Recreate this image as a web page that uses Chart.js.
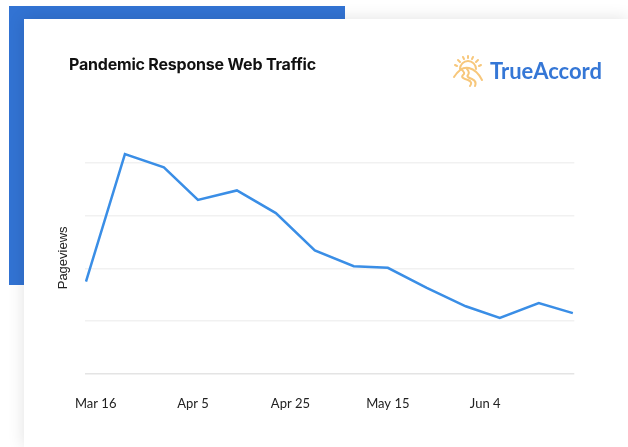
<!DOCTYPE html>
<html>
<head>
<meta charset="utf-8">
<script src="https://cdn.jsdelivr.net/npm/chart.js@4/dist/chart.umd.min.js"></script>
<style>
  html, body { margin: 0; padding: 0; background: #fff; }
  body { width: 628px; height: 447px; position: relative; overflow: hidden; }
  .accent { position: absolute; left: 9px; top: 6px; width: 336px; height: 279px; background: #3273d3; }
  .card { position: absolute; left: 24px; top: 19px; width: 604px; height: 428px; background: #fff;
          box-shadow: 0 0 16px rgba(0,0,0,0.12); }
  .card h1 { position: absolute; left: 45px; top: 35px; margin: 0; font: bold 16px Inter, sans-serif;
             color: #111; letter-spacing: -0.2px; }
  .logo { position: absolute; left: 428px; top: 33px; height: 36px; display: flex; align-items: center; }
  .logo span { font: bold 22px Lato, sans-serif; color: #3577d6; margin-left: 6px; }
  canvas { position: absolute; left: 0; top: 0; }
</style>
</head>
<body>
<div class="accent"></div>
<div class="card">
  <canvas id="canvas1" width="604" height="428"></canvas>
  <h1>Pandemic Response Web Traffic</h1>
  <div class="logo">
    <svg width="32" height="34" viewBox="0 0 32 34" fill="none" stroke="#f7c77b" stroke-width="2" stroke-linecap="round">
      <!-- rays -->
      <line x1="3" y1="12" x2="5" y2="13"/>
      <line x1="6" y1="7" x2="8" y2="9"/>
      <line x1="11" y1="4" x2="12" y2="6"/>
      <line x1="16" y1="3" x2="16" y2="5"/>
      <line x1="21" y1="4" x2="20" y2="6"/>
      <line x1="26" y1="7" x2="24" y2="9"/>
      <line x1="29" y1="12" x2="27" y2="13"/>
      <!-- sun -->
      <path d="M8 16 A8 8 0 0 1 24 16"/>
      <!-- hills -->
      <path d="M2 24 Q9 13 17 15 Q25 17 30 27"/>
      <!-- road -->
      <path d="M9 16 Q14 20 11 22 Q8 25 16 27 Q21 29 18 33"/>
      <path d="M15 16 Q18 19 16 22 Q14 24 20 26 Q25 28 23 33"/>
    </svg>
    <span>TrueAccord</span>
  </div>
</div>
<script>
// weekly pageview samples
var sampleDates = ['2020-03-14','2020-03-22','2020-03-30','2020-04-06','2020-04-14','2020-04-22','2020-04-30',
                   '2020-05-08','2020-05-15','2020-05-23','2020-05-31','2020-06-07','2020-06-15','2020-06-22'];
var pageviews = [1750, 4170, 3920, 3300, 3480, 3050, 2340, 2040, 2010, 1630, 1280, 1060, 1340, 1150];

// x axis labels
var tickDates = ['2020-03-16','2020-04-05','2020-04-25','2020-05-15','2020-06-04'];
var tickLabels = ['Mar 16','Apr 5','Apr 25','May 15','Jun 4'];

// y gridlines (no labels shown)
var yTicks = [0, 1000, 2000, 3000, 4000];

var origin = Date.UTC(2020, 2, 16);
function dayOf(s) {
	var p = s.split('-');
	return (Date.UTC(+p[0], +p[1] - 1, +p[2]) - origin) / 86400000;
}

var points = sampleDates.map(function(d, i) { return { x: dayOf(d), y: pageviews[i] }; });
var tickDays = tickDates.map(dayOf);

var myChart = {
	type: 'line',
	data: {
		datasets: [{
			label: 'Pageviews',
			data: points,
			borderColor: '#3a8ee6',
			borderWidth: 2.5,
			pointRadius: 0,
			tension: 0,
			fill: false
		}]
	},
	options: {
		responsive: false,
		animation: false,
		layout: { padding: { left: 27.4, right: 53.7, top: 123, bottom: 13.7 } },
		plugins: {
			legend: { display: false },
			tooltip: { enabled: false }
		},
		scales: {
			x: {
				type: 'linear',
				min: -2.2,
				max: 98.3,
				grid: { display: false, drawTicks: false },
				border: { display: false },
				afterBuildTicks: function(scale) {
					scale.ticks = tickDays.map(function(v) { return { value: v }; });
				},
				ticks: {
					padding: 22,
					maxRotation: 0,
					autoSkip: false,
					color: '#222',
					font: { family: 'Lato', size: 13 },
					callback: function(value) {
						var i = tickDays.indexOf(value);
						return i >= 0 ? tickLabels[i] : '';
					}
				}
			},
			y: {
				min: 0,
				max: 4400,
				afterBuildTicks: function(scale) {
					scale.ticks = yTicks.map(function(v) { return { value: v }; });
				},
				grid: {
					drawTicks: false,
					lineWidth: 1.5,
					color: function(ctx) { return ctx.tick && ctx.tick.value === 0 ? '#e4e4e4' : '#f1f1f1'; }
				},
				border: { display: false },
				ticks: { display: false },
				title: {
					display: true,
					text: 'Pageviews',
					color: '#222',
					padding: { top: 4, bottom: 14 },
					font: { family: 'Liberation Sans', size: 13 }
				}
			}
		}
	}
};

window.onload = function() {
	var ctx = document.getElementById('canvas1').getContext('2d');
	new Chart(ctx, myChart);
};
</script>
</body>
</html>
